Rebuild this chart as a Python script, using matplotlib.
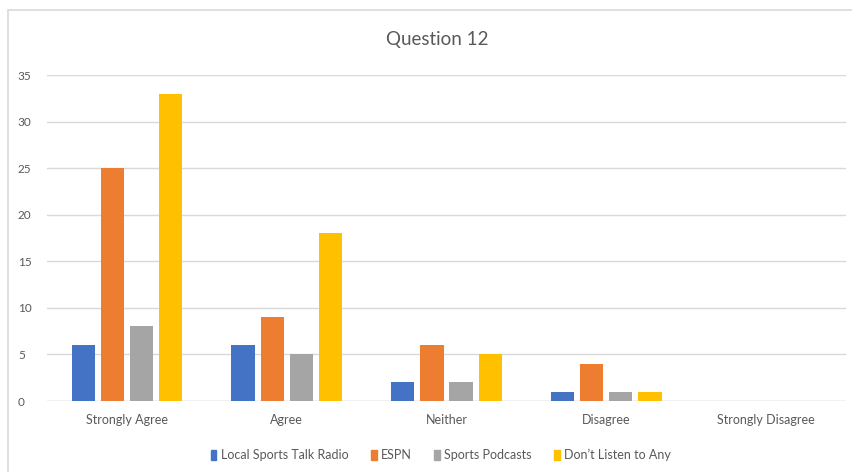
import matplotlib
matplotlib.use("Agg")
import matplotlib.pyplot as plt
import numpy as np
from matplotlib.patches import Rectangle

categories = ["Strongly Agree", "Agree", "Neither", "Disagree", "Strongly Disagree"]
series_names = ["Local Sports Talk Radio", "ESPN", "Sports Podcasts", "Don\u2019t Listen to Any"]
local_radio = [6, 6, 2, 1, 0]
espn = [25, 9, 6, 4, 0]
podcasts = [8, 5, 2, 1, 0]
dont_listen = [33, 18, 5, 1, 0]
series_values = [local_radio, espn, podcasts, dont_listen]
colors = ["#4472C4", "#ED7D31", "#A5A5A5", "#FFC000"]
yticks = [0, 5, 10, 15, 20, 25, 30, 35]

plt.rcParams['font.family'] = ['Lato', 'DejaVu Sans']
W, H = 852, 472
fig = plt.figure(figsize=(W/100, H/100), dpi=100)

# outer chart border
border = Rectangle((8/W, -0.01), 1.0, 1 - 10/H + 0.01, transform=fig.transFigure,
                   fill=False, edgecolor="#D9D9D9", linewidth=1.2)
fig.patches.append(border)

left, right = 47, 846
top, bottom = 75, 401
ax = fig.add_axes([left/W, 1 - bottom/H, (right-left)/W, (bottom-top)/H])
ax.set_xlim(-0.5, len(categories) - 0.5)
ax.set_ylim(0, 35)

x = np.arange(len(categories))
bw = 0.145
step = 0.182
for i, (vals, c, name) in enumerate(zip(series_values, colors, series_names)):
    ax.bar(x + (i - 1.5) * step, vals, width=bw, color=c, label=name, zorder=3)

ax.set_yticks(yticks)
ax.set_yticklabels([str(t) for t in yticks], fontsize=8.5, color="#595959")
ax.set_xticks(x)
ax.set_xticklabels(categories, fontsize=9, color="#595959")
ax.tick_params(axis='both', length=0)
ax.tick_params(axis='y', pad=21)
ax.tick_params(axis='x', pad=9)
for lab in ax.get_yticklabels():
    lab.set_horizontalalignment('left')
ax.grid(axis='y', color="#D9D9D9", linewidth=1, zorder=0)
for s in ax.spines.values():
    s.set_visible(False)
ax.axhline(0, color="#D9D9D9", linewidth=1, zorder=2)

fig.text(437/W, 1 - 40/H, "Question 12", ha="center", va="center", fontsize=13.5, color="#595959")

handles = [Rectangle((0, 0), 1, 1, color=c) for c in colors]
leg = fig.legend(handles, series_names, loc="center", bbox_to_anchor=(441/W, 1 - 455/H),
                 ncol=4, frameon=False, fontsize=9, handlelength=0.45, handleheight=0.8,
                 handletextpad=0.35, columnspacing=1.8)
for t in leg.get_texts():
    t.set_color("#595959")

fig.savefig("out.png", dpi=100)
